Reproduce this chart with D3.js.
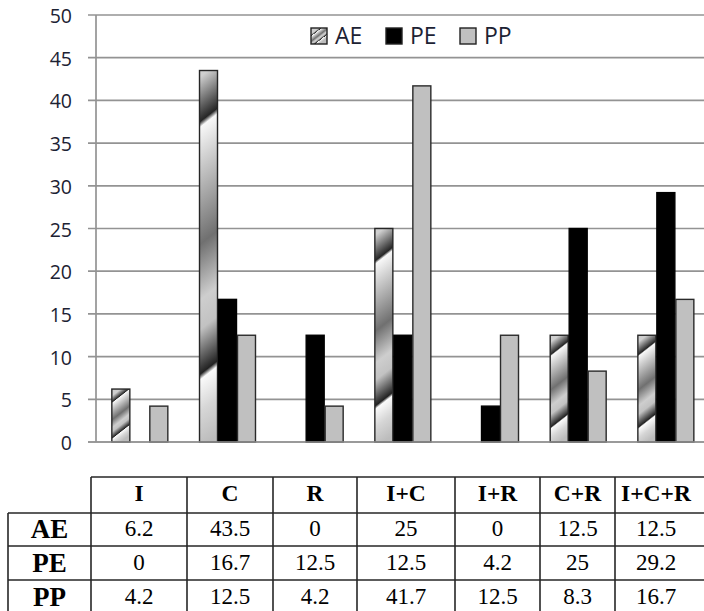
<!DOCTYPE html>
<html>
<head>
<meta charset="utf-8">
<script src="https://cdn.jsdelivr.net/npm/d3@7"></script>
<style>
  html, body { margin: 0; padding: 0; background: #fff; }
  svg { display: block; }
</style>
</head>
<body>
<svg id="chart" width="704" height="611"></svg>
<script>
// Groups and series
const categories = ["I", "C", "R", "I+C", "I+R", "C+R", "I+C+R"];
const seriesNames = ["AE", "PE", "PP"];
const aeValues = [6.2, 43.5, 0, 25, 0, 12.5, 12.5];
const peValues = [0, 16.7, 12.5, 12.5, 4.2, 25, 29.2];
const ppValues = [4.2, 12.5, 4.2, 41.7, 12.5, 8.3, 16.7];
const yTicks = [0, 5, 10, 15, 20, 25, 30, 35, 40, 45, 50];
const tableValues = {
  AE: ["6.2", "43.5", "0", "25", "0", "12.5", "12.5"],
  PE: ["0", "16.7", "12.5", "12.5", "4.2", "25", "29.2"],
  PP: ["4.2", "12.5", "4.2", "41.7", "12.5", "8.3", "16.7"]
};

const seriesValues = { AE: aeValues, PE: peValues, PP: ppValues };

const svg = d3.select("#chart");
const defs = svg.append("defs");

// plot frame
const plotLeft = 96, plotTop = 15, plotBottom = 442;
const step = 87.67;
const plotRight = plotLeft + categories.length * step;

const x = d3.scaleBand().domain(categories)
  .range([plotLeft, plotRight]).paddingInner(0.35).paddingOuter(0.175);
const xs = d3.scaleBand().domain(seriesNames).range([0, x.bandwidth()]);
const y = d3.scaleLinear().domain([0, 50]).range([plotBottom, plotTop]);

const gridColor = "#939393";

// horizontal gridlines (start left of the axis, forming tick marks)
svg.append("g").selectAll("line").data(yTicks).join("line")
  .attr("x1", plotLeft - 8).attr("x2", 704)
  .attr("y1", d => y(d)).attr("y2", d => y(d))
  .attr("stroke", gridColor).attr("stroke-width", 1.7);

// vertical axis line
svg.append("line")
  .attr("x1", plotLeft).attr("x2", plotLeft)
  .attr("y1", y(50)).attr("y2", y(0))
  .attr("stroke", gridColor).attr("stroke-width", 1.7);

// tick labels
svg.append("g").selectAll("text").data(yTicks).join("text")
  .attr("x", 72).attr("y", d => y(d) + 8)
  .attr("text-anchor", "end")
  .attr("font-family", "'Open Sans', sans-serif")
  .attr("font-size", 19.5)
  .attr("fill", "#1c2233")
  .text(d => d);

// metallic striped fill for the AE series
const metalStops = [
  [0, "#cfcfcf"], [0.12, "#262626"], [0.135, "#f8f8f8"], [0.22, "#d2d2d2"],
  [0.45, "#707070"], [0.6, "#cecece"], [0.68, "#c2c2c2"], [0.8, "#222222"],
  [0.815, "#fafafa"], [0.9, "#d6d6d6"], [1, "#bcbcbc"]
];
function metalGradient(id, x0, y0, w, h) {
  const cx = x0 + w / 2;
  const g = defs.append("linearGradient").attr("id", id)
    .attr("gradientUnits", "userSpaceOnUse")
    .attr("x1", cx).attr("y1", y0).attr("x2", cx).attr("y2", y0 + h)
    .attr("gradientTransform", `translate(${cx},0) skewY(-38) translate(${-cx},0)`);
  metalStops.forEach(([o, c]) => g.append("stop").attr("offset", o).attr("stop-color", c));
  return `url(#${id})`;
}

// bars
const bars = [];
categories.forEach((cat, i) => {
  seriesNames.forEach(s => {
    const v = seriesValues[s][i];
    if (v > 0) bars.push({ cat, s, v, i });
  });
});

const barG = svg.append("g");
bars.forEach((b, k) => {
  const bx = x(b.cat) + xs(b.s);
  const bw = xs.bandwidth();
  const by = y(b.v);
  const bh = y(0) - y(b.v);
  let fill, stroke;
  if (b.s === "AE") { fill = metalGradient("ae" + k, bx, by, bw, bh); stroke = "#262626"; }
  else if (b.s === "PE") { fill = "#000000"; stroke = "#000000"; }
  else { fill = "#c0c0c0"; stroke = "#2a2a2a"; }
  barG.append("rect")
    .attr("x", bx + 0.5).attr("y", by)
    .attr("width", bw - 1).attr("height", bh)
    .attr("fill", fill).attr("stroke", stroke).attr("stroke-width", 1.4);
});

// baseline over bar bottoms
svg.append("line")
  .attr("x1", plotLeft - 8).attr("x2", 704)
  .attr("y1", y(0)).attr("y2", y(0))
  .attr("stroke", gridColor).attr("stroke-width", 1.7);

// legend
const legendX = [311, 386, 460];
const legend = svg.append("g");
seriesNames.forEach((s, i) => {
  const lx = legendX[i];
  let fill = s === "AE" ? metalGradient("aeLegend", lx, 28, 16, 16) : (s === "PE" ? "#000" : "#c0c0c0");
  legend.append("rect").attr("x", lx).attr("y", 28).attr("width", 16).attr("height", 16)
    .attr("fill", fill).attr("stroke", "#222").attr("stroke-width", 1.4);
  legend.append("text").attr("x", lx + 24).attr("y", 44)
    .attr("font-family", "'Open Sans', sans-serif").attr("font-size", 23)
    .attr("fill", "#1c2233").text(s);
});

// data table
const colEdges = [8, 91, 187, 273, 357, 455, 540, 615, 697];
const rowEdges = [477, 513, 546, 580, 614];
const tableRight = 720;
const tg = svg.append("g");
const lineAttr = sel => sel.attr("stroke", "#262626").attr("stroke-width", 1.6);

// horizontal rules
tg.append("line").attr("x1", colEdges[1]).attr("x2", tableRight)
  .attr("y1", rowEdges[0]).attr("y2", rowEdges[0]).call(lineAttr);
rowEdges.slice(1).forEach(ry => {
  tg.append("line").attr("x1", colEdges[0]).attr("x2", tableRight)
    .attr("y1", ry).attr("y2", ry).call(lineAttr);
});
// vertical rules
tg.append("line").attr("x1", colEdges[0]).attr("x2", colEdges[0])
  .attr("y1", rowEdges[1]).attr("y2", 620).call(lineAttr);
colEdges.slice(1, 8).forEach(cx => {
  tg.append("line").attr("x1", cx).attr("x2", cx)
    .attr("y1", rowEdges[0]).attr("y2", 620).call(lineAttr);
});

const colCenter = i => (colEdges[i + 1] + colEdges[i + 2]) / 2;

// header
categories.forEach((c, i) => {
  tg.append("text").attr("x", colCenter(i)).attr("y", 501)
    .attr("text-anchor", "middle")
    .attr("font-family", "'Liberation Serif', 'Times New Roman', serif")
    .attr("font-weight", "bold").attr("font-size", 23.5)
    .attr("fill", "#000").text(c);
});
// rows
const rowBaselines = [538, 572, 606];
seriesNames.forEach((s, r) => {
  tg.append("text").attr("x", (colEdges[0] + colEdges[1]) / 2).attr("y", rowBaselines[r])
    .attr("text-anchor", "middle")
    .attr("font-family", "'Liberation Serif', 'Times New Roman', serif")
    .attr("font-weight", "bold").attr("font-size", 27)
    .attr("fill", "#000").text(s);
  tableValues[s].forEach((v, i) => {
    tg.append("text").attr("x", colCenter(i)).attr("y", rowBaselines[r] - 2)
      .attr("text-anchor", "middle")
      .attr("font-family", "'Liberation Serif', 'Times New Roman', serif")
      .attr("font-size", 23)
      .attr("fill", "#000").text(v);
  });
});
</script>
</body>
</html>
